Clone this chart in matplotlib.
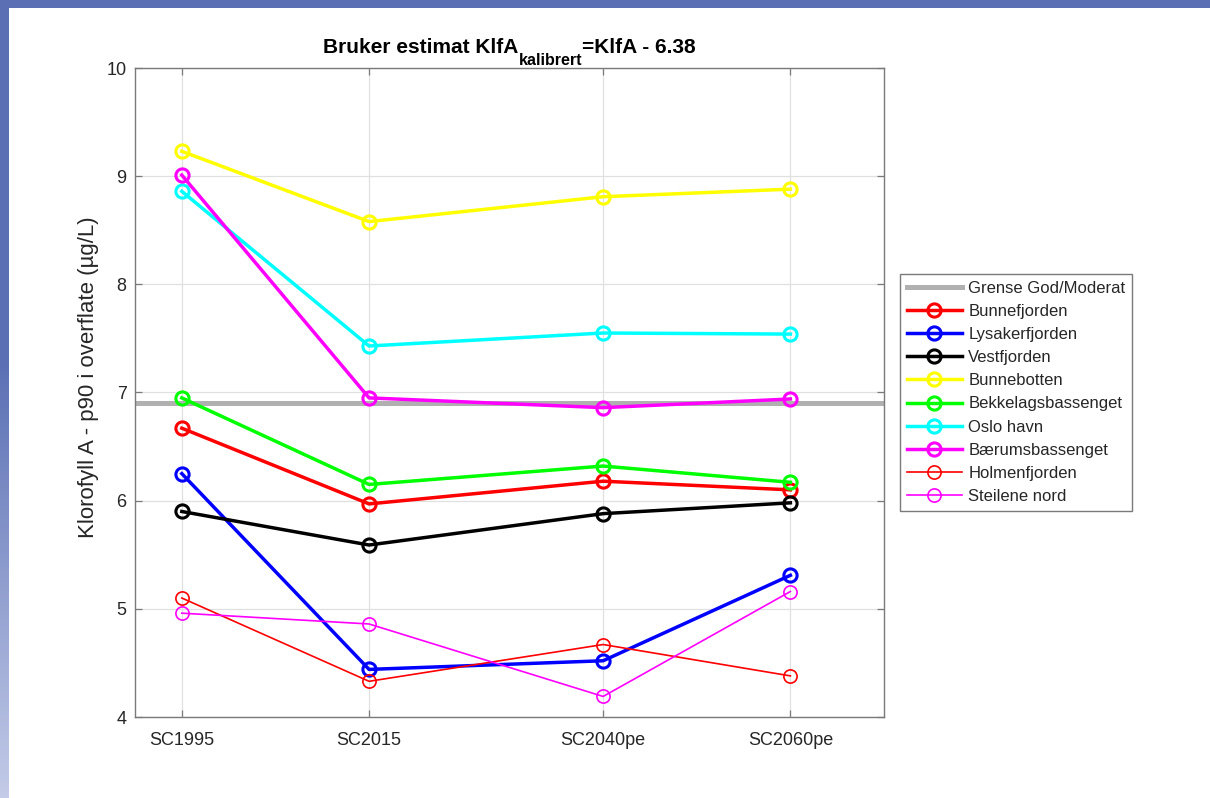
import numpy as np
import matplotlib
matplotlib.use("Agg")
import matplotlib.pyplot as plt
from matplotlib.patches import Rectangle

plt.rcParams['font.family'] = ['Liberation Sans', 'DejaVu Sans']

# ---- data ----
years = [1995, 2015, 2040, 2060]
xlabels = ['SC1995', 'SC2015', 'SC2040pe', 'SC2060pe']
grense = 6.90
bunnefjorden = [6.67, 5.97, 6.18, 6.10]
lysakerfjorden = [6.25, 4.44, 4.52, 5.31]
vestfjorden = [5.90, 5.59, 5.88, 5.98]
bunnebotten = [9.23, 8.58, 8.81, 8.88]
bekkelagsbassenget = [6.95, 6.15, 6.32, 6.17]
oslo_havn = [8.86, 7.43, 7.55, 7.54]
baerumsbassenget = [9.01, 6.95, 6.86, 6.94]
holmenfjorden = [5.10, 4.33, 4.67, 4.38]
steilene_nord = [4.96, 4.86, 4.19, 5.16]

names = ['Bunnefjorden', 'Lysakerfjorden', 'Vestfjorden', 'Bunnebotten',
         'Bekkelagsbassenget', 'Oslo havn', 'Bærumsbassenget',
         'Holmenfjorden', 'Steilene nord']
series = [bunnefjorden, lysakerfjorden, vestfjorden, bunnebotten,
          bekkelagsbassenget, oslo_havn, baerumsbassenget,
          holmenfjorden, steilene_nord]
colors = ['#FF0000', '#0000FF', '#000000', '#FFFF00', '#00FF00',
          '#00FFFF', '#FF00FF', '#FF0000', '#FF00FF']
thick = [True, True, True, True, True, True, True, False, False]

W, H = 1210, 798
fig = plt.figure(figsize=(W / 100, H / 100), dpi=100, facecolor='white')

# background slide frame
bg = fig.add_axes([0, 0, 1, 1], zorder=-10)
bg.set_xlim(0, 1)
bg.set_ylim(0, 1)
bg.axis('off')
grad = np.ones((200, 1, 3))
top_c = np.array([90, 111, 180]) / 255
bot_c = np.array([195, 203, 232]) / 255
for i in range(200):
    t = i / 199.0  # 0 top -> 1 bottom
    f = max(0.0, (t - 0.45) / 0.55)
    grad[i, 0, :] = top_c * (1 - f) + bot_c * f
bg.imshow(grad, extent=[0, 8.5 / W, 0, 1], aspect='auto', zorder=0)
bg.add_patch(Rectangle((0, 1 - 7.5 / H), 1, 7.5 / H, color=top_c, lw=0, zorder=1))

ax = fig.add_axes([135 / W, 1 - 717 / H, (884 - 135) / W, (717 - 68) / H])
ax.set_facecolor('white')

ax.axhline(grense, color='#B0B0B0', lw=3.6, label='Grense God/Moderat', zorder=2)
for name, vals, c, th in zip(names, series, colors, thick):
    if th:
        ax.plot(years, vals, color=c, lw=2.5, marker='o', ms=9.5, mfc='none',
                mew=2.2, mec=c, label=name, zorder=3)
    else:
        ax.plot(years, vals, color=c, lw=1.2, marker='o', ms=9.5, mfc='none',
                mew=1.2, mec=c, label=name, zorder=3)

ax.set_xlim(1990, 2070)
ax.set_ylim(4, 10)
ax.set_xticks(years)
ax.set_xticklabels(xlabels)
ax.set_yticks([4, 5, 6, 7, 8, 9, 10])
ax.grid(True, color='#E0E0E0', lw=0.9, zorder=0)
ax.set_axisbelow(True)
ax.tick_params(direction='in', length=5, width=0.9, colors='#7A7A7A',
               labelcolor='#262626', labelsize=13, top=True, right=True)
ax.tick_params(axis='x', pad=11)
ax.tick_params(axis='y', pad=6)
for s in ax.spines.values():
    s.set_color('#7A7A7A')
    s.set_linewidth(1.0)

ax.set_ylabel('Klorofyll A - p90 i overflate (µg/L)', fontsize=16, color='#262626')
ax.yaxis.set_label_coords((99 - 135) / (884 - 135), (717 - 377) / (717 - 68))

# title composed of main text + larger subscript
base_y = 1 - 53 / H
sub_y = 1 - 65 / H
t1 = fig.text(0, base_y, 'Bruker estimat KlfA', fontsize=15, fontweight='bold',
              va='baseline', ha='left')
t2 = fig.text(0, sub_y, 'kalibrert', fontsize=11.5, fontweight='bold',
              va='baseline', ha='left')
t3 = fig.text(0, base_y, '=KlfA - 6.38', fontsize=15, fontweight='bold',
              va='baseline', ha='left')
r = fig.canvas.get_renderer()
w1 = t1.get_window_extent(r).width
w2 = t2.get_window_extent(r).width
w3 = t3.get_window_extent(r).width
cx = (135 + 884) / 2.0
x0 = cx - (w1 + w2 + w3) / 2.0
t1.set_x(x0 / W)
t2.set_x((x0 + w1) / W)
t3.set_x((x0 + w1 + w2) / W)

leg = ax.legend(loc='upper left', bbox_to_anchor=(900 / W, 1 - 274 / H),
                bbox_transform=fig.transFigure, borderaxespad=0,
                fontsize=12, handlelength=3.3, handletextpad=0.4,
                labelspacing=0.49, borderpad=0.4, fancybox=False,
                framealpha=1, edgecolor='#7A7A7A')
leg.get_frame().set_linewidth(1.0)
for t in leg.get_texts():
    t.set_color('#262626')

fig.savefig('out.png', dpi=100, facecolor='white')
